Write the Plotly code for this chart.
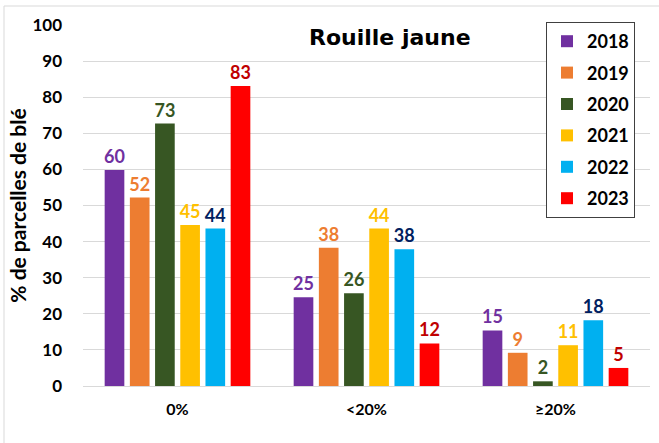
import plotly.graph_objects as go

categories = ["0%", "<20%", "≥20%"]
years = ["2018", "2019", "2020", "2021", "2022", "2023"]
values_2018 = [59.8, 24.6, 15.4]
values_2019 = [52.2, 38.3, 9.2]
values_2020 = [72.7, 25.7, 1.3]
values_2021 = [44.6, 43.6, 11.3]
values_2022 = [43.6, 37.9, 18.2]
values_2023 = [83.1, 11.8, 5.0]
labels_2018 = ["60", "25", "15"]
labels_2019 = ["52", "38", "9"]
labels_2020 = ["73", "26", "2"]
labels_2021 = ["45", "44", "11"]
labels_2022 = ["44", "38", "18"]
labels_2023 = ["83", "12", "5"]

series = [values_2018, values_2019, values_2020, values_2021, values_2022, values_2023]
labels = [labels_2018, labels_2019, labels_2020, labels_2021, labels_2022, labels_2023]
bar_colors = ["#7030A0", "#ED7D31", "#375623", "#FFC000", "#00B0F0", "#FF0000"]
label_colors = ["#7030A0", "#ED7D31", "#375623", "#FFC000", "#002060", "#C00000"]

FONT = "Lato"

fig = go.Figure()
for yr, vals, lab, bc, lc in zip(years, series, labels, bar_colors, label_colors):
    fig.add_trace(go.Bar(
        x=categories, y=vals, name=yr, legendgroup=yr,
        marker=dict(color=bc, line=dict(width=0)),
        text=lab, textposition="outside", constraintext="none",
        textfont=dict(family=FONT, size=18, color=lc, weight="bold"),
        cliponaxis=False, hoverinfo="skip",
    ))

W, H = 659, 443
L, R, T, B = 83, 9, 25, 57
pw, ph = W - L - R, H - T - B

def px_x(p):
    return (p - L) / pw

def px_y(p):
    return 1 - (p - T) / ph

fig.update_layout(
    width=W, height=H,
    margin=dict(l=L, r=R, t=T, b=B),
    paper_bgcolor="white", plot_bgcolor="white",
    barmode="group", bargap=0.2, bargroupgap=0.22,
    font=dict(family=FONT, color="black"),
    showlegend=True,
    legend=dict(
        x=px_x(546), y=px_y(22), xanchor="left", yanchor="top",
        bordercolor="#404040", borderwidth=1, bgcolor="white",
        font=dict(family=FONT, size=18, color="black", weight="bold"),
        tracegroupgap=5, traceorder="grouped",
    ),
    xaxis=dict(
        showgrid=False, showline=False, ticks="",
        tickfont=dict(family=FONT, size=16, color="black", weight="bold"),
        ticklabelstandoff=12,
    ),
    yaxis=dict(
        range=[0, 100], dtick=10, showgrid=True, gridcolor="#D9D9D9", gridwidth=1,
        zeroline=True, zerolinecolor="#D9D9D9", zerolinewidth=1,
        showline=False, ticks="",
        tickfont=dict(family=FONT, size=17, color="black", weight="bold"),
        ticklabelstandoff=20,
        title=dict(text="% de parcelles de blé", standoff=0,
                   font=dict(family=FONT, size=21, color="black", weight="bold")),
    ),
    annotations=[dict(
        text="Rouille jaune", x=px_x(390), y=px_y(37), xref="paper", yref="paper",
        xanchor="center", yanchor="middle", showarrow=False,
        font=dict(family="DejaVu Sans", size=22, color="black", weight="bold"),
    )],
    shapes=[
        dict(type="line", xref="paper", yref="paper", x0=px_x(4), x1=px_x(W + 5),
             y0=px_y(6), y1=px_y(6), line=dict(color="#D9D9D9", width=1)),
        dict(type="line", xref="paper", yref="paper", x0=px_x(4), x1=px_x(4),
             y0=px_y(6), y1=px_y(H + 5), line=dict(color="#D9D9D9", width=1)),
    ],
)

fig.write_html("out.html", config={"displayModeBar": False},
               post_script="document.body.style.margin='0';")
